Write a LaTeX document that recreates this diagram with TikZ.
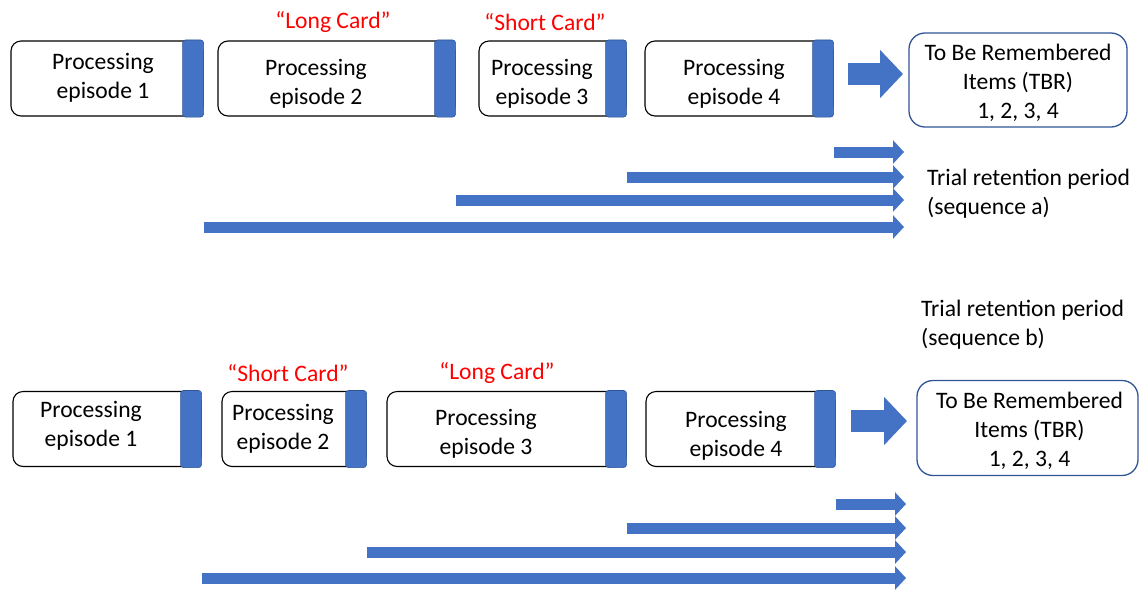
\documentclass[tikz,border=0pt]{standalone}
\usepackage{fontspec}
\setmainfont{Carlito}
\usetikzlibrary{arrows.meta}
\definecolor{barblue}{HTML}{4472C4}
\definecolor{edgeblue}{HTML}{2F5597}
\definecolor{cardred}{HTML}{FF0000}
\tikzset{
  procbox/.style={draw=black, line width=1.1pt, rounded corners=10pt, fill=white,
    minimum height=75pt, inner sep=0pt},
  proctext/.style={align=center, inner sep=0pt, yshift=-2.5pt},
  cardlabel/.style={text=cardred, inner sep=0pt, yshift=-2pt},
  tbrbox/.style={draw=edgeblue, line width=1.3pt, rounded corners=16pt, fill=white,
    align=center, inner sep=0pt},
  tbrtext/.style={align=center, inner sep=0pt, yshift=-3pt},
  periodtext/.style={align=left, anchor=west, inner sep=0pt, yshift=-2pt},
  timearrow/.style={draw=barblue, line width=11pt, -{Triangle[length=11pt,width=23pt]}},
  bigarrow/.style={draw=barblue, line width=22pt, -{Triangle[length=23pt,width=47pt]}},
}
% blue strip on the right of a processing box
\newcommand{\rightstrip}[1]{%
  \fill[barblue, draw=edgeblue, line width=0.6pt, rounded corners=3pt]
    ([xshift=-21pt,yshift=0.5pt]#1.north east) rectangle ([yshift=-0.5pt]#1.south east);}
\begin{document}
\begin{tikzpicture}[x=1pt, y=-1pt, font=\fontsize{23.6}{28.8}\selectfont]
\useasboundingbox (0,0) rectangle (1139,590);

% ---------------- sequence a ----------------
\node[procbox, minimum width=192pt] (a1) at (107,78.5) {};
\node[procbox, minimum width=237pt] (a2) at (336.5,78.5) {};
\node[procbox, minimum width=147pt] (a3) at (552.5,78.5) {};
\node[procbox, minimum width=188pt] (a4) at (739,78.5) {};
\foreach \b in {a1,a2,a3,a4} {\rightstrip{\b}}

\node[proctext] (ta1) at (103,75.5) {Processing\\episode 1};
\node[proctext] (ta2) at (316,81.5) {Processing\\episode 2};
\node[proctext] (ta3) at (542,81.5) {Processing\\episode 3};
\node[proctext] (ta4) at (734,81.5) {Processing\\episode 4};

\node[cardlabel] (la2) at (333,20) {“Long Card”};
\node[cardlabel] (la3) at (545,20) {“Short Card”};

\node[tbrbox, minimum width=218pt, minimum height=94pt] (tbra) at (1018,80) {};
\node[tbrtext] (tbrat) at (tbra.center) {To Be Remembered\\Items (TBR)\\1, 2, 3, 4};

\coordinate (ga0) at (848,74);
\coordinate (ga1) at (903,74);
\draw[bigarrow] (ga0) -- (ga1);

\coordinate (ea4) at (904,152);
\coordinate (ea3) at (904,177);
\coordinate (ea2) at (904,200);
\coordinate (ea1) at (904,227);
\draw[timearrow] (a4.east |- ea4) -- (ea4);
\draw[timearrow] (a3.east |- ea3) -- (ea3);
\draw[timearrow] (a2.east |- ea2) -- (ea2);
\draw[timearrow] (a1.east |- ea1) -- (ea1);

\node[periodtext] (pa) at (927,192) {Trial retention period\\(sequence a)};

% ---------------- sequence b ----------------
\node[periodtext] (pb) at (921,322.5) {Trial retention period\\(sequence b)};

\node[cardlabel] (lb2) at (288,371) {“Short Card”};
\node[cardlabel] (lb3) at (497,371) {“Long Card”};

\node[procbox, minimum width=188pt] (b1) at (107,429) {};
\node[procbox, minimum width=144pt] (b2) at (294,429) {};
\node[procbox, minimum width=239pt] (b3) at (506.5,429) {};
\node[procbox, minimum width=189pt] (b4) at (740.5,429) {};
\foreach \b in {b1,b2,b3,b4} {\rightstrip{\b}}

\node[proctext] (tb1) at (91,423.5) {Processing\\episode 1};
\node[proctext] (tb2) at (283,426.5) {Processing\\episode 2};
\node[proctext] (tb3) at (486,431) {Processing\\episode 3};
\node[proctext] (tb4) at (736,433.5) {Processing\\episode 4};

\node[tbrbox, minimum width=221pt, minimum height=95pt] (tbrb) at (1027.5,428) {};
\node[tbrtext] (tbrbt) at ([xshift=2pt]tbrb.center) {To Be Remembered\\Items (TBR)\\1, 2, 3, 4};

\coordinate (gb0) at (851,421);
\coordinate (gb1) at (907,421);
\draw[bigarrow] (gb0) -- (gb1);

\coordinate (eb4) at (906,504);
\coordinate (eb3) at (906,528);
\coordinate (eb2) at (906,552);
\coordinate (eb1) at (906,578);
\draw[timearrow] (b4.east |- eb4) -- (eb4);
\draw[timearrow] (b3.east |- eb3) -- (eb3);
\draw[timearrow] (b2.east |- eb2) -- (eb2);
\draw[timearrow] (b1.east |- eb1) -- (eb1);
\end{tikzpicture}
\end{document}
